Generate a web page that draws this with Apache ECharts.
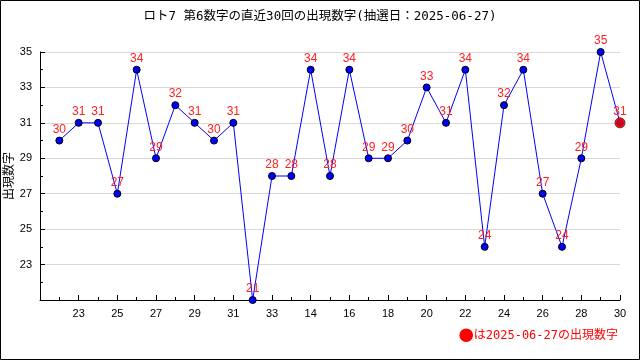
<!DOCTYPE html>
<html><head><meta charset="utf-8">
<script src="https://cdn.jsdelivr.net/npm/echarts@6/dist/echarts.min.js"></script>
<style>html,body{margin:0;padding:0;background:#fff}#c{width:640px;height:360px}</style>
</head><body><div id="c"></div>
<script>
const titleText = 'ロト7 第6数字の直近30回の出現数字(抽選日：2025-06-27)';
const drawLabels = ['22','23','24','25','26','27','28','29','30','31','32','33','13','14','15','16','17','18','19','20','21','22','23','24','25','26','27','28','29','30'];
const values = [30,31,31,27,34,29,32,31,30,31,21,28,28,34,28,34,29,29,30,33,31,34,24,32,34,27,24,29,35,31];
const yTicks = [23,25,27,29,31,33,35];
const legendMark = '●';
const legendText = 'は2025-06-27の出現数字';

const n = values.length;
const mainData = values.map((v,i)=>[i+1,v]);
const lastData = [[n, values[n-1]]];
const monoJP = '"DejaVu Sans Mono","Noto Sans CJK JP"';

const chart = echarts.init(document.getElementById('c'));
chart.setOption({
  animation:false,
  backgroundColor:'#fff',
  title:{text:titleText,left:'center',top:5,textStyle:{fontFamily:monoJP,fontSize:12.5,fontWeight:'normal',color:'#000'}},
  grid:{left:40,right:20,top:52,bottom:60,containLabel:false,outerBoundsMode:'none'},
  xAxis:{type:'value',min:0,max:30,interval:2,
    axisLine:{lineStyle:{color:'#000'}},
    axisTick:{inside:true,length:5,lineStyle:{color:'#000'}},
    minorTick:{show:true,splitNumber:2,length:3,lineStyle:{color:'#000'}},
    splitLine:{show:false},
    axisLabel:{margin:8,color:'#000',fontFamily:'Liberation Sans',fontSize:11,
      formatter:v=> (v>0 && v<=n) ? drawLabels[v-1] : ''}
  },
  yAxis:{type:'value',min:21,max:35,interval:2,
    name:'出現数字',nameLocation:'middle',nameGap:26,nameRotate:90,nameMoveOverlap:false,
    nameTextStyle:{fontFamily:'Noto Sans CJK JP',fontSize:12,color:'#000'},
    axisLine:{show:true,lineStyle:{color:'#000'}},
    axisTick:{show:true,inside:true,length:5,lineStyle:{color:'#000'}},
    minorTick:{show:true,splitNumber:2,length:3,lineStyle:{color:'#000'}},
    splitLine:{show:true,lineStyle:{color:'#d9d9d9'}},
    axisLabel:{margin:8,color:'#000',fontFamily:'Liberation Sans',fontSize:11,
      formatter:v=> yTicks.indexOf(v)>=0 ? String(v) : ''}
  },
  series:[
    {type:'line',data:mainData,symbol:'circle',symbolSize:7,
      lineStyle:{color:'#0000ff',width:1},
      itemStyle:{color:'#0000ff',borderColor:'#000',borderWidth:1},
      label:{show:true,position:'top',distance:1,color:'#ff2020',fontFamily:'Liberation Sans',fontSize:12,
        formatter:p=>String(p.value[1])}
    },
    {type:'scatter',data:lastData,symbol:'circle',symbolSize:10,z:5,
      itemStyle:{color:'#ff0000',borderColor:'#600',borderWidth:1}}
  ],
  graphic:[
    {type:'rect',shape:{x:0.5,y:0.5,width:639,height:359},style:{fill:null,stroke:'#000',lineWidth:1},silent:true},
    {type:'text',right:22,top:328,style:{text:'{m|'+legendMark+'}{t|'+legendText+'}',
      rich:{m:{fill:'#ff0000',fontFamily:'Noto Sans CJK JP',fontSize:15},t:{fill:'#ff0000',fontFamily:monoJP,fontSize:12}}}}
  ]
});
</script></body></html>
